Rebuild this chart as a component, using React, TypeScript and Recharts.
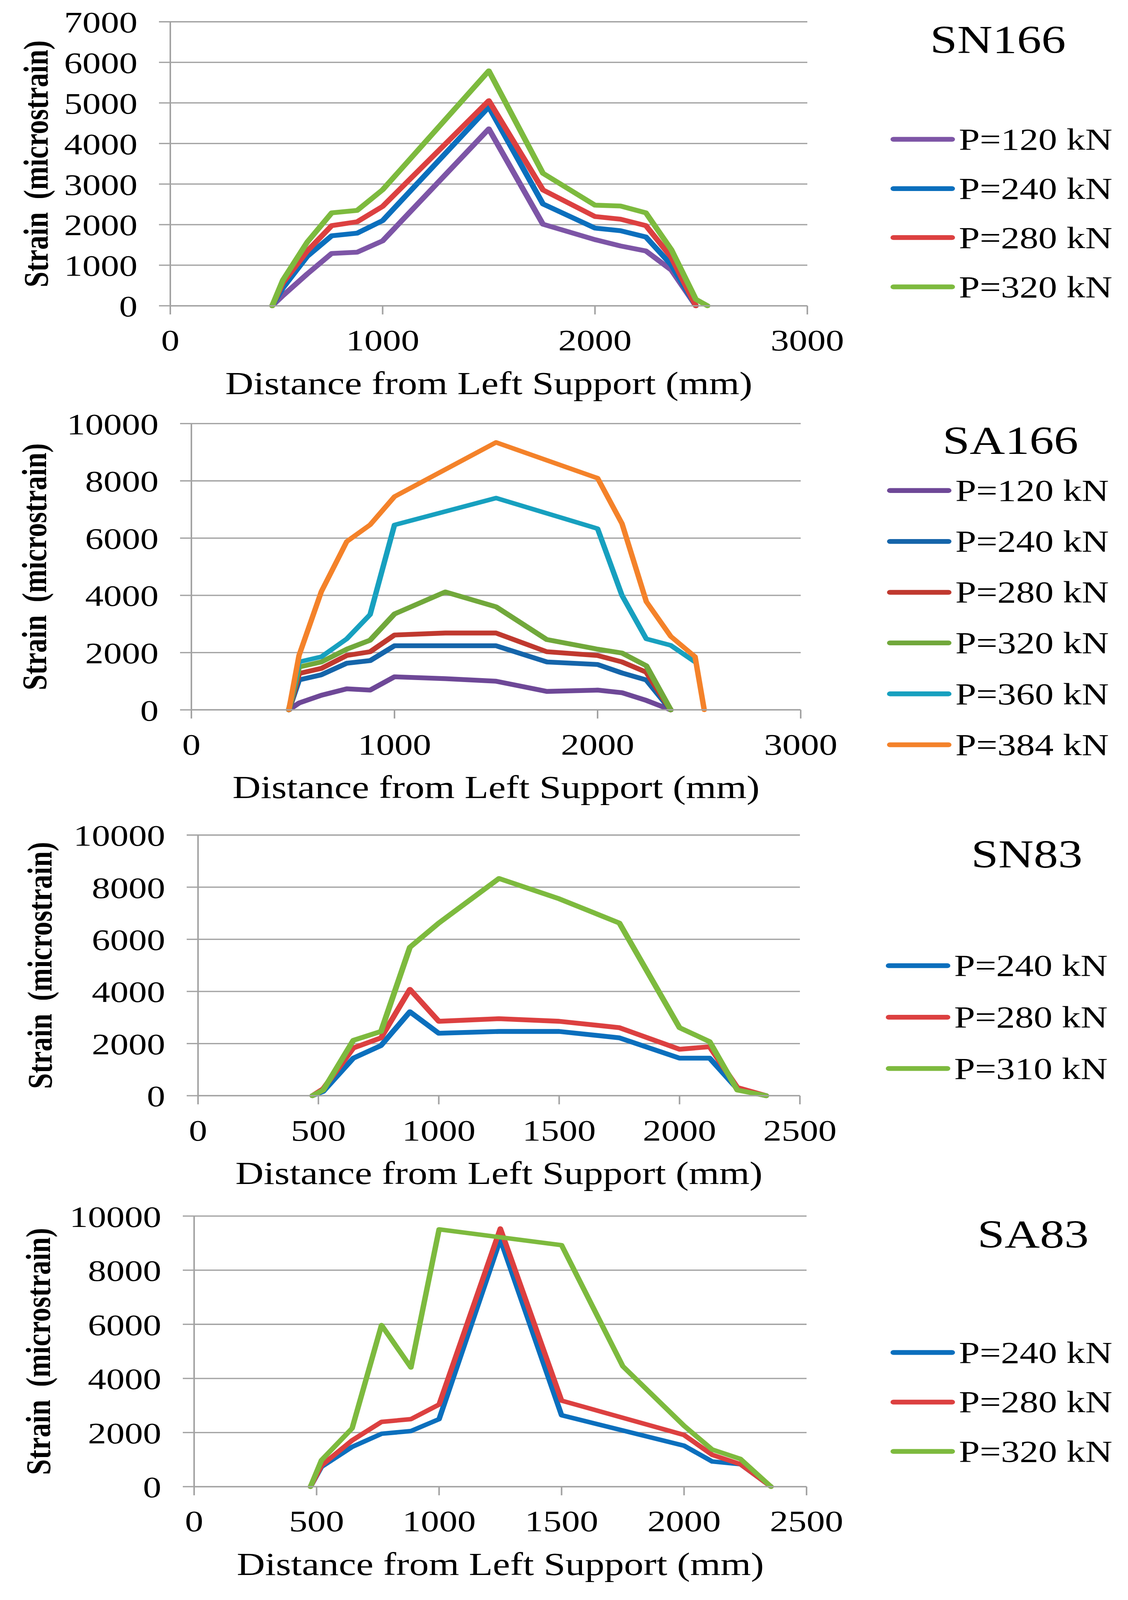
import React from 'react';
import { LineChart, Line, XAxis, YAxis, CartesianGrid, Legend } from 'recharts';

const FONT = '"Liberation Serif", "Times New Roman", Times, serif';

// ---------- SN166 ----------
const sn166X = [480, 530, 645, 760, 880, 1000, 1500, 1755, 2000, 2120, 2240, 2360, 2475, 2530];
const sn166P120 = [0, 250, 785, 1290, 1320, 1600, 4360, 2010, 1630, 1475, 1350, 880, 0, null];
const sn166P240 = [0, 440, 1220, 1725, 1790, 2100, 4900, 2510, 1915, 1850, 1695, 1005, 0, null];
const sn166P280 = [0, 565, 1350, 1975, 2070, 2450, 5055, 2855, 2200, 2135, 1975, 1190, 0, null];
const sn166P320 = [0, 630, 1570, 2290, 2350, 2860, 5790, 3265, 2480, 2460, 2290, 1380, 160, 0];

// ---------- SA166 ----------
const sa166X = [480, 530, 640, 765, 880, 1000, 1250, 1500, 1750, 2000, 2120, 2240, 2360, 2480, 2525];
const sa166P120 = [0, 240, 510, 735, 690, 1155, 1090, 1000, 645, 690, 600, 330, 0, null, null];
const sa166P240 = [0, 1045, 1225, 1630, 1720, 2240, 2240, 2240, 1675, 1585, 1290, 1045, 0, null, null];
const sa166P280 = [0, 1270, 1450, 1900, 2030, 2615, 2685, 2685, 2030, 1900, 1675, 1315, 0, null, null];
const sa166P320 = [0, 1495, 1675, 2120, 2435, 3350, 4120, 3600, 2455, 2120, 1985, 1540, 0, null, null];
const sa166P360 = [0, 1675, 1855, 2480, 3330, 6460, null, 7400, null, 6330, 4000, 2480, 2255, 1675, null];
const sa166P384 = [0, 1900, 4135, 5880, 6465, 7450, null, 9345, null, 8095, 6510, 3780, 2570, 1855, 0];

// ---------- SN83 ----------
const sn83X = [475, 520, 645, 760, 880, 1000, 1250, 1500, 1750, 2000, 2125, 2240, 2360];
const sn83P240 = [0, 165, 1440, 1925, 3220, 2395, 2465, 2465, 2220, 1440, 1440, 265, 0];
const sn83P280 = [0, 265, 1830, 2220, 4080, 2855, 2955, 2855, 2610, 1780, 1880, 315, 0];
const sn83P310 = [0, 215, 2125, 2465, 5695, 6625, 8335, 7555, 6625, 2610, 2075, 215, 0];

// ---------- SA83 ----------
const sa83X = [475, 520, 645, 765, 885, 1000, 1250, 1500, 1750, 2000, 2115, 2230, 2355];
const sa83P240 = [0, 735, 1470, 1955, 2055, 2495, 9150, 2640, null, 1515, 930, 830, 0];
const sa83P280 = [0, 785, 1710, 2395, 2495, 3035, 9540, 3180, null, 1910, 1175, 830, 0];
const sa83P320 = [0, 980, 2155, 5970, 4405, 9510, null, 8925, 4450, 2250, 1370, 1025, 0];

// ---------- axis ticks ----------
const ticks3000 = [0, 1000, 2000, 3000];
const ticks2500 = [0, 500, 1000, 1500, 2000, 2500];
const ticks7000 = [0, 1000, 2000, 3000, 4000, 5000, 6000, 7000];
const ticks10000 = [0, 2000, 4000, 6000, 8000, 10000];

const X_TITLE = 'Distance from Left Support (mm)';
const Y_TITLE = 'Strain (microstrain)';

const toPoints = (xs: number[], ys: (number | null)[]) =>
  xs.map((x, i) => ({ x, y: ys[i] })).filter((p) => p.y !== null && p.y !== undefined);

type Series = { name: string; color: string; width: number; data: { x: number; y: number | null }[] };

type Panel = {
  title: string;
  plotLeft: number;
  plotRight: number;
  plotTop: number;
  plotBottom: number;
  xTicks: number[];
  yTicks: number[];
  series: Series[];
  titleX: number;
  titleY: number;
  legendLeft: number;
  legendFirst: number;
  legendGap: number;
  yTitleX: number;
};

const C = {
  purple: '#7d55a6',
  blue: '#0b6fbd',
  red: '#dc4040',
  green: '#7dba3e',
  purple2: '#6e4897',
  blue2: '#1565aa',
  red2: '#c0392f',
  green2: '#71a83b',
  cyan: '#17a0bf',
  orange: '#f4822a',
};

const panels: Panel[] = [
  {
    title: 'SN166',
    plotLeft: 436, plotRight: 2067, plotTop: 68, plotBottom: 955,
    xTicks: ticks3000, yTicks: ticks7000,
    series: [
      { name: 'P=120 kN', color: C.purple, width: 15, data: toPoints(sn166X, sn166P120) },
      { name: 'P=240 kN', color: C.blue, width: 15, data: toPoints(sn166X, sn166P240) },
      { name: 'P=280 kN', color: C.red, width: 15, data: toPoints(sn166X, sn166P280) },
      { name: 'P=320 kN', color: C.green, width: 15, data: toPoints(sn166X, sn166P320) },
    ],
    titleX: 2555, titleY: 124, legendLeft: 2272, legendFirst: 435, legendGap: 153.7, yTitleX: 92,
  },
  {
    title: 'SA166',
    plotLeft: 490, plotRight: 2050, plotTop: 1323, plotBottom: 2217,
    xTicks: ticks3000, yTicks: ticks10000,
    series: [
      { name: 'P=120 kN', color: C.purple2, width: 15, data: toPoints(sa166X, sa166P120) },
      { name: 'P=240 kN', color: C.blue2, width: 15, data: toPoints(sa166X, sa166P240) },
      { name: 'P=280 kN', color: C.red2, width: 15, data: toPoints(sa166X, sa166P280) },
      { name: 'P=320 kN', color: C.green2, width: 15, data: toPoints(sa166X, sa166P320) },
      { name: 'P=360 kN', color: C.cyan, width: 14, data: toPoints(sa166X, sa166P360) },
      { name: 'P=384 kN', color: C.orange, width: 14, data: toPoints(sa166X, sa166P384) },
    ],
    titleX: 2587, titleY: 1375, legendLeft: 2263, legendFirst: 1532, legendGap: 158.8, yTitleX: 88,
  },
  {
    title: 'SN83',
    plotLeft: 507, plotRight: 2048, plotTop: 2608, plotBottom: 3422,
    xTicks: ticks2500, yTicks: ticks10000,
    series: [
      { name: 'P=240 kN', color: C.blue, width: 15, data: toPoints(sn83X, sn83P240) },
      { name: 'P=280 kN', color: C.red, width: 15, data: toPoints(sn83X, sn83P280) },
      { name: 'P=310 kN', color: C.green, width: 15, data: toPoints(sn83X, sn83P310) },
    ],
    titleX: 2629, titleY: 2667, legendLeft: 2260, legendFirst: 3016, legendGap: 160.5, yTitleX: 102,
  },
  {
    title: 'SA83',
    plotLeft: 497, plotRight: 2065, plotTop: 3798, plotBottom: 4643,
    xTicks: ticks2500, yTicks: ticks10000,
    series: [
      { name: 'P=240 kN', color: C.blue, width: 14, data: toPoints(sa83X, sa83P240) },
      { name: 'P=280 kN', color: C.red, width: 14, data: toPoints(sa83X, sa83P280) },
      { name: 'P=320 kN', color: C.green, width: 14, data: toPoints(sa83X, sa83P320) },
    ],
    titleX: 2645, titleY: 3854, legendLeft: 2272, legendFirst: 4224, legendGap: 154.5, yTitleX: 98,
  },
];

const PAGE_W = 2888;
const PAGE_H = 4997;
const TOP_PAD = 60;
const X_AXIS_H = 320;
const GRID = '#a3a3a3';

const XTitle = (props: any) => {
  const { viewBox, value } = props;
  if (!viewBox) return null;
  const { x, y, width } = viewBox;
  return (
    <text x={x + width / 2} y={y + 276} textAnchor="middle" fontFamily={FONT} fontSize={100} fill="#000">
      {value}
    </text>
  );
};

const makeYTitle = (cx: number) => (props: any) => {
  const { viewBox, value } = props;
  if (!viewBox) return null;
  const cy = viewBox.y + viewBox.height / 2;
  return (
    <text
      x={cx}
      y={cy}
      transform={`rotate(-90 ${cx} ${cy})`}
      textAnchor="middle"
      dominantBaseline="central"
      fontFamily={FONT}
      fontWeight="bold"
      fontSize={88}
      style={{ wordSpacing: '18px' }}
      fill="#000"
    >
      {value}
    </text>
  );
};

const makeLegend = (gap: number) => (props: any) => (
  <div>
    {(props.payload || []).map((e: any) => (
      <div key={e.value} style={{ display: 'flex', alignItems: 'center', height: gap }}>
        <svg width={183} height={30} style={{ display: 'block', flex: 'none' }}>
          <line x1={15.5} y1={15} x2={165.5} y2={15} stroke={e.color} strokeWidth={15} strokeLinecap="round" />
        </svg>
        <span style={{ fontFamily: FONT, fontSize: 96, lineHeight: `${gap}px`, color: '#000', whiteSpace: 'nowrap' }}>
          {e.value}
        </span>
      </div>
    ))}
  </div>
);

const ChartPanel = ({ p }: { p: Panel }) => {
  const chartTop = p.plotTop - TOP_PAD;
  const height = TOP_PAD + (p.plotBottom - p.plotTop) + X_AXIS_H;
  const tickStyle = { fontSize: 94, fill: '#000', fontFamily: FONT };
  const xMax = p.xTicks[p.xTicks.length - 1];
  const yMax = p.yTicks[p.yTicks.length - 1];
  return (
    <>
      <div style={{ position: 'absolute', left: 0, top: chartTop, width: PAGE_W, height }}>
        <LineChart
          width={PAGE_W}
          height={height}
          margin={{ top: TOP_PAD, right: PAGE_W - p.plotRight, bottom: 0, left: 0 }}
        >
          <CartesianGrid vertical={false} stroke={GRID} strokeWidth={4} />
          <XAxis
            type="number"
            dataKey="x"
            domain={[0, xMax]}
            ticks={p.xTicks}
            interval={0}
            height={X_AXIS_H}
            tick={tickStyle}
            tickSize={27}
            tickMargin={46}
            axisLine={{ stroke: GRID, strokeWidth: 4 }}
            tickLine={{ stroke: GRID, strokeWidth: 4 }}
            label={{ value: X_TITLE, content: XTitle }}
          />
          <YAxis
            type="number"
            domain={[0, yMax]}
            ticks={p.yTicks}
            interval={0}
            width={p.plotLeft}
            tick={tickStyle}
            tickSize={29}
            tickMargin={55}
            axisLine={{ stroke: GRID, strokeWidth: 4 }}
            tickLine={{ stroke: GRID, strokeWidth: 4 }}
            label={{ value: Y_TITLE, content: makeYTitle(p.yTitleX) }}
          />
          <Legend
            layout="vertical"
            align="center"
            verticalAlign="middle"
            content={makeLegend(p.legendGap)}
            wrapperStyle={{
              left: p.legendLeft,
              top: p.legendFirst - p.legendGap / 2 - chartTop,
              width: 620,
              height: 'auto',
            }}
          />
          {p.series.map((s) => (
            <Line
              key={s.name}
              type="linear"
              data={s.data}
              dataKey="y"
              name={s.name}
              stroke={s.color}
              strokeWidth={s.width}
              strokeLinejoin="round"
              strokeLinecap="round"
              dot={false}
              activeDot={false}
              isAnimationActive={false}
            />
          ))}
        </LineChart>
      </div>
      <div
        style={{
          position: 'absolute',
          left: p.titleX - 300,
          top: p.titleY - 80,
          width: 600,
          height: 160,
          lineHeight: '160px',
          textAlign: 'center',
          fontFamily: FONT,
          fontSize: 125,
          color: '#000',
        }}
      >
        {p.title}
      </div>
    </>
  );
};

export default function App() {
  // Fit the whole figure into the visible window if the window turns out smaller than the figure.
  const vw = typeof window !== 'undefined' && window.innerWidth ? window.innerWidth : PAGE_W;
  const vh = typeof window !== 'undefined' && window.innerHeight ? window.innerHeight : PAGE_H;
  const sx = Math.min(1, vw / PAGE_W);
  const sy = Math.min(1, vh / PAGE_H);
  return (
    <div
      style={{
        position: 'fixed',
        left: 0,
        top: 0,
        width: PAGE_W,
        height: PAGE_H,
        background: '#fff',
        transform: `scale(${sx}, ${sy})`,
        transformOrigin: '0 0',
      }}
    >
      {panels.map((p) => (
        <ChartPanel key={p.title} p={p} />
      ))}
    </div>
  );
}
